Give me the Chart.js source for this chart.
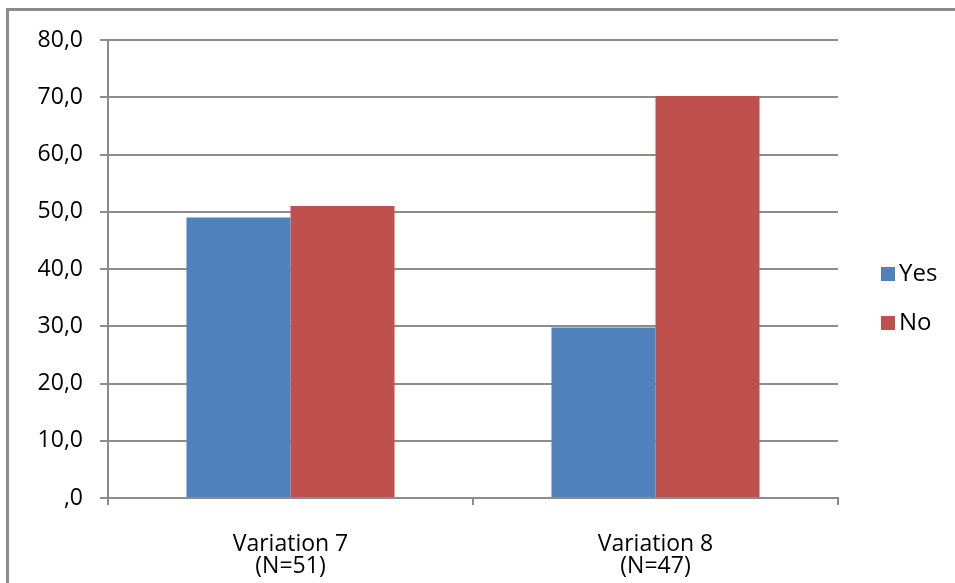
<!DOCTYPE html>
<html>
<head>
<meta charset="utf-8">
<script src="https://cdn.jsdelivr.net/npm/chart.js@4/dist/chart.umd.min.js"></script>
<style>
  html, body { margin: 0; padding: 0; background: #fff; }
  #wrap { width: 955px; height: 583px; position: relative; }
</style>
</head>
<body>
<div id="wrap"><canvas id="myChart"></canvas></div>
<script>
const categories = [['Variation 7', '(N=51)'], ['Variation 8', '(N=47)']];
const yesValues = [49.0, 29.8];
const noValues = [51.0, 70.2];
const seriesNames = ['Yes', 'No'];

const ctx = document.getElementById('myChart');

// outer frame (left + top edges only, the rest is cropped away)
const framePlugin = {
  id: 'frame',
  beforeDraw(chart) {
    const c = chart.ctx;
    c.save();
    c.fillStyle = '#fff';
    c.fillRect(0, 0, chart.width, chart.height);
    c.strokeStyle = '#8c8c8c';
    c.lineWidth = 3;
    c.beginPath();
    c.moveTo(7.5, chart.height);
    c.lineTo(7.5, 9.5);
    c.lineTo(chart.width, 9.5);
    c.stroke();
    c.restore();
  }
};

// legend on the right, drawn from the datasets
const legendPlugin = {
  id: 'sideLegend',
  afterDraw(chart) {
    const c = chart.ctx;
    c.save();
    c.font = '24px "Open Sans"';
    c.textBaseline = 'middle';
    chart.data.datasets.forEach((ds, i) => {
      const y = 274 + i * 49;
      c.fillStyle = ds.backgroundColor;
      c.fillRect(881, y - 7, 14, 14);
      c.fillStyle = '#000';
      c.fillText(ds.label, 899, y);
    });
    c.restore();
  }
};

let chart = new Chart(ctx, {
  type: 'bar',
  data: {
    labels: categories,
    datasets: [{
      label: seriesNames[0],
      data: yesValues,
      backgroundColor: '#4F81BD',
      borderWidth: 0
    }, {
      label: seriesNames[1],
      data: noValues,
      backgroundColor: '#C0504D',
      borderWidth: 0
    }]
  },
  plugins: [framePlugin, legendPlugin],
  options: {
    responsive: true,
    maintainAspectRatio: false,
    animation: false,
    layout: { padding: { top: 40, right: 117, bottom: 0, left: 0 } },
    plugins: {
      legend: { display: false },
      tooltip: { enabled: false }
    },
    datasets: {
      bar: { categoryPercentage: 0.57, barPercentage: 1.0 }
    },
    scales: {
      x: {
        grid: { drawOnChartArea: false, drawTicks: true, tickLength: 7, color: '#8c8c8c', lineWidth: 2 },
        border: { color: '#8c8c8c', width: 2 },
        ticks: { color: '#000', font: { family: 'Open Sans', size: 23, lineHeight: 0.96 }, padding: 28, maxRotation: 0 },
        afterFit(scale) { scale.height = 85; }
      },
      y: {
        min: 0,
        max: 80,
        ticks: {
          stepSize: 10,
          color: '#000',
          padding: 17,
          font: { family: 'Open Sans', size: 23 },
          callback: (v) => v === 0 ? ',0' : v.toFixed(1).replace('.', ',')
        },
        grid: { color: '#8c8c8c', lineWidth: 2, tickLength: 8 },
        border: { color: '#8c8c8c', width: 2 },
        afterFit(scale) { scale.width = 108; }
      }
    }
  }
});
</script>
</body>
</html>
